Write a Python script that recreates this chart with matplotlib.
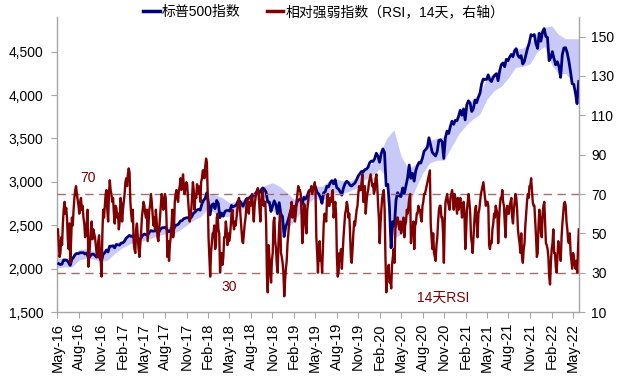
import matplotlib
matplotlib.use('Agg')
import matplotlib.pyplot as plt
import matplotlib.dates as mdates
from matplotlib.lines import Line2D
from matplotlib.ticker import FuncFormatter, FixedLocator
import pandas as pd

plt.rcParams['font.family'] = ['Liberation Sans', 'Noto Sans CJK SC']

# ---- data -------------------------------------------------------------
week_start = '2016-05-06'   # weekly (Friday) S&P 500 observations

spx = [
    # 2016
    2057, 2047, 2052, 2099, 2099, 2096, 2071, 2037, 2103, 2130, 2162, 2175, 2173,
    2183, 2184, 2184, 2169, 2180, 2128, 2139, 2165, 2168, 2153, 2133, 2141, 2126,
    2085, 2164, 2182, 2213, 2192, 2259, 2258, 2263, 2239,
    # 2017
    2277, 2275, 2271, 2295, 2297, 2316, 2351, 2367, 2383, 2372, 2378, 2344, 2363,
    2355, 2329, 2349, 2384, 2399, 2390, 2382, 2416, 2439, 2432, 2433, 2438, 2423,
    2425, 2459, 2472, 2472, 2477, 2441, 2425, 2443, 2477, 2461, 2500, 2502, 2519,
    2549, 2553, 2575, 2581, 2588, 2582, 2579, 2602, 2642, 2652, 2676, 2683, 2674,
    # 2018
    2744, 2786, 2810, 2873, 2762, 2620, 2732, 2747, 2691, 2786, 2752, 2588, 2641,
    2604, 2656, 2670, 2670, 2663, 2728, 2713, 2721, 2735, 2779, 2780, 2755, 2718,
    2760, 2801, 2802, 2819, 2840, 2833, 2850, 2875, 2902, 2872, 2905, 2930, 2914,
    2885, 2767, 2768, 2659, 2723, 2781, 2736, 2633, 2760, 2633, 2600, 2370, 2486,
    # 2019
    2532, 2596, 2671, 2665, 2707, 2708, 2776, 2793, 2804, 2743, 2822, 2801, 2834,
    2893, 2907, 2905, 2940, 2946, 2881, 2860, 2826, 2752, 2873, 2887, 2950, 2942,
    2990, 3014, 2977, 3026, 2932, 2919, 2889, 2847, 2926, 2979, 3007, 2992, 2962,
    2952, 2970, 2986, 3023, 3067, 3093, 3120, 3110, 3141, 3146, 3169, 3221, 3240,
    # 2020
    3235, 3265, 3330, 3295, 3226, 3328, 3380, 3338, 2954, 2972, 2711, 2240, 2541,
    2489, 2790, 2875, 2837, 2831, 2930, 2864, 2955, 3044, 3194, 3041, 3098, 3009,
    3130, 3185, 3225, 3216, 3271, 3351, 3373, 3397, 3508, 3427, 3341, 3319, 3298,
    3348, 3477, 3484, 3465, 3270, 3510, 3585, 3558, 3638, 3699, 3663, 3709, 3703,
    # 2021
    3756, 3825, 3768, 3841, 3714, 3887, 3934, 3907, 3811, 3842, 3943, 3913, 3975,
    4020, 4129, 4185, 4180, 4181, 4233, 4174, 4156, 4204, 4230, 4247, 4166, 4281,
    4352, 4370, 4327, 4412, 4395, 4437, 4468, 4442, 4509, 4535, 4459, 4433, 4455,
    4357, 4391, 4471, 4545, 4605, 4697, 4683, 4698, 4595, 4538, 4712, 4621, 4726,
    4766,
    # 2022
    4677, 4663, 4398, 4432, 4501, 4419, 4349, 4385, 4329, 4204, 4463, 4543,
    4546, 4488, 4393, 4272, 4132, 4123, 4024, 3901, 4158,
]

rsi_start = '2016-05-03'    # RSI sampled twice a week (Tue / Fri)
rsi = [
    # 2016
    52, 45, 38, 40, 48, 44, 55, 62,
    66, 60, 63, 58, 47, 42, 55, 35,
    46, 58, 54, 62, 68, 72, 74, 70, 67, 64,
    60, 66, 68, 62, 64, 58, 55, 48,
    50, 55, 62, 33, 38, 45, 52, 56, 47, 52,
    50, 48, 44, 40, 38, 46, 49, 40,
    36, 28, 50, 62, 58, 64, 70, 72,
    62, 56, 70, 77, 72, 70, 66, 68, 60, 55,
    # 2017
    64, 63, 58, 60, 52, 56, 68, 65,
    56, 62, 66, 70, 76, 78, 74, 80,
    83, 81, 66, 60, 56, 62, 46, 42, 40, 52,
    55, 48, 42, 38, 44, 50, 58, 62,
    66, 64, 60, 58, 62, 46, 54, 62,
    64, 70, 66, 60, 54, 58, 52, 62, 56, 48,
    46, 52, 58, 64, 70, 68, 62, 64,
    70, 68, 56, 38, 46, 36, 44, 48,
    54, 62, 48, 52, 66, 70, 72, 68, 66, 72,
    74, 78, 72, 76, 80, 74, 70, 74,
    76, 75, 68, 62, 56, 58, 62, 68,
    76, 72, 62, 70, 68, 75, 70, 74, 72, 66,
    # 2018
    76, 78, 82, 82, 78, 84, 88, 86,
    70, 48, 38, 28, 40, 45, 50, 50,
    54, 42, 44, 58, 60, 52, 50, 30, 38, 40,
    34, 38, 48, 48, 56, 52, 44, 50,
    46, 48, 54, 60, 62, 55, 52, 56,
    54, 58, 62, 66, 68, 64, 58, 52, 46, 45,
    50, 55, 58, 64, 68, 62, 60, 66,
    64, 68, 70, 62, 56, 64, 68, 70, 72, 73,
    70, 62, 56, 66, 70, 72, 64, 66,
    66, 55, 28, 20, 44, 38, 30, 25,
    36, 40, 56, 58, 46, 42, 34, 30, 45, 55,
    60, 40, 38, 35, 30, 18, 26, 32,
    # 2019
    36, 45, 50, 55, 60, 62, 66, 58,
    60, 64, 56, 60, 66, 70, 74, 72,
    72, 70, 60, 45, 52, 65, 64, 55, 50, 62,
    66, 70, 72, 72, 74, 70, 72, 74,
    76, 72, 48, 40, 30, 42, 46, 36, 38, 30,
    42, 55, 60, 58, 56, 68, 70, 64,
    64, 68, 66, 70, 72, 58, 62, 66,
    60, 38, 28, 30, 40, 36, 42, 32, 40, 48,
    54, 60, 62, 66, 64, 58, 60, 50,
    38, 35, 42, 50, 56, 54, 58, 62,
    64, 70, 74, 72, 72, 76, 80, 66, 70, 74,
    60, 66, 70, 72, 76, 78, 80, 77,
    # 2020
    74, 75, 70, 72, 78, 80, 74, 65, 58, 45,
    55, 62, 68, 70, 72, 62, 38, 20,
    28, 30, 34, 25, 26, 22, 34, 38,
    42, 35, 52, 55, 58, 58, 54, 52,
    56, 50, 52, 56, 58, 48, 54, 56, 62, 60,
    64, 68, 70, 45, 52, 52, 56, 42,
    54, 55, 60, 60, 64, 62, 62, 58, 56, 64,
    66, 70, 70, 72, 74, 76, 78, 80,
    82, 55, 48, 42, 50, 40, 38, 36,
    44, 48, 56, 62, 64, 64, 58, 58, 50, 35,
    56, 66, 68, 70, 66, 64, 62, 68,
    70, 72, 68, 62, 70, 68, 64, 60,
    # 2021
    68, 62, 66, 68, 64, 58, 62, 66, 60, 42,
    50, 62, 66, 70, 66, 60, 48, 45,
    40, 48, 56, 62, 64, 55, 48, 60,
    62, 66, 70, 72, 74, 76, 72, 68, 64, 66,
    66, 64, 44, 42, 46, 45, 52, 55,
    60, 58, 64, 62, 60, 45, 56, 64,
    68, 68, 72, 66, 64, 55, 48, 62, 64, 60,
    60, 64, 66, 68, 58, 55, 62, 66,
    70, 68, 62, 52, 48, 45, 40, 50,
    38, 35, 42, 45, 54, 60, 66, 70, 68, 74,
    74, 78, 72, 66, 64, 64, 56, 48,
    38, 40, 54, 62, 58, 50, 48, 60, 64, 66,
    # 2022
    56, 45, 44, 42, 38, 28, 24, 35,
    42, 45, 52, 40, 40, 33, 30, 38,
    46, 40, 42, 36, 48, 55, 60, 65,
    66, 64, 56, 52, 46, 45, 50, 40, 36, 32,
    40, 38, 34, 32, 36, 30, 42, 52,
]

band_start = '2016-05-01'   # monthly band observations
band_lower = [
    2010, 2020, 2020, 2100, 2120, 2110, 2080, 2100,
    2180, 2240, 2280, 2310, 2320, 2350, 2380, 2400, 2400, 2440, 2500, 2560,
    2600, 2700, 2640, 2600, 2600, 2640, 2690, 2760, 2800, 2830, 2680, 2560,
    2450, 2550, 2650, 2750, 2820, 2780, 2850, 2880, 2870, 2900, 2940, 3030,
    3080, 3150, 3050, 2350, 2400, 2700, 2920, 3100, 3220, 3250, 3250, 3400,
    3550, 3650, 3720, 3780, 3950, 4050, 4100, 4200, 4320, 4330, 4360, 4500,
    4560, 4350, 4250, 4250, 4150, 3950,
]
band_upper = [
    2120, 2120, 2140, 2220, 2230, 2200, 2200, 2250,
    2300, 2320, 2400, 2400, 2410, 2440, 2460, 2480, 2490, 2550, 2600, 2650,
    2720, 2870, 2850, 2820, 2760, 2770, 2800, 2860, 2920, 2960, 2990, 2950,
    2880, 2800, 2830, 2880, 2950, 2950, 3010, 3030, 3010, 3010, 3060, 3150,
    3220, 3320, 3500, 3600, 3300, 3150, 3200, 3300, 3480, 3500, 3520, 3650,
    3760, 3850, 3950, 4020, 4200, 4250, 4300, 4400, 4530, 4540, 4600, 4720,
    4780, 4800, 4700, 4650, 4650, 4650,
]

rsi_levels = [70, 30]
left_ticks = [1500, 2000, 2500, 3000, 3500, 4000, 4500]
right_ticks = [10, 30, 50, 70, 90, 110, 130, 150]
legend_labels = ['标普500指数', '相对强弱指数（RSI，14天，右轴）']

# ---- figure -----------------------------------------------------------
weeks = pd.date_range(week_start, periods=len(spx), freq='W-FRI')
rsi_dates = pd.date_range(rsi_start, periods=len(rsi), freq='84h')
months = pd.date_range(band_start, periods=len(band_lower), freq='MS')

BLUE = '#00007f'
RED = '#7f0000'
BAND = '#c9c9f7'
GRID = '#a6a6a6'
DASH = '#a07070'

fig = plt.figure(figsize=(6.2, 3.76), dpi=100)
ax = fig.add_axes([0.0927, 0.1702, 0.8411, 0.7846])
ax2 = ax.twinx()

ax.fill_between(months, band_lower, band_upper, color=BAND, lw=0, zorder=1)
ax.plot(weeks, spx, color=BLUE, lw=2.0, zorder=3)

ax2.plot(rsi_dates, rsi, color=RED, lw=1.7, zorder=3)
for lv in rsi_levels:
    ax2.axhline(lv, color=DASH, lw=1.0, ls=(0, (6, 4)), zorder=2)

ax.set_ylim(1500, 4900)
ax2.set_ylim(10, 160)
ax.set_xlim(pd.Timestamp('2016-05-01'), pd.Timestamp('2022-05-28'))

ax.yaxis.set_major_locator(FixedLocator(left_ticks))
ax.yaxis.set_major_formatter(FuncFormatter(lambda v, p: f'{int(v):,}'))
ax2.yaxis.set_major_locator(FixedLocator(right_ticks))

ax.xaxis.set_major_locator(mdates.MonthLocator(bymonth=[2, 5, 8, 11]))
ax.xaxis.set_major_formatter(mdates.DateFormatter('%b-%y'))
for lab in ax.get_xticklabels():
    lab.set_rotation(90)

for a in (ax, ax2):
    a.spines['top'].set_visible(False)
    for s in ('left', 'right', 'bottom'):
        a.spines[s].set_color(GRID)
        a.spines[s].set_linewidth(1.0)
ax.spines['right'].set_visible(False)
ax2.spines['left'].set_visible(False)
ax2.spines['bottom'].set_visible(False)

ax.tick_params(axis='y', length=4, color=GRID, labelsize=10, pad=6, labelcolor='#000000')
ax.tick_params(axis='x', length=4, color=GRID, labelsize=10.5, pad=4)
ax2.tick_params(axis='y', length=4, color=GRID, labelsize=10, pad=5)

ax2.text(pd.Timestamp('2016-09-07'), 78, '70', color=RED, fontsize=10, ha='center', va='center')
ax2.text(pd.Timestamp('2018-05-01'), 22.5, '30', color=RED, fontsize=10, ha='center', va='center')
ax2.text(pd.Timestamp('2020-10-27'), 17.5, '14天RSI', color=RED, fontsize=10, ha='center', va='center')

handles = [Line2D([], [], color=BLUE, lw=2.5), Line2D([], [], color=RED, lw=2.5)]
fig.legend(handles, legend_labels, loc='center', bbox_to_anchor=(0.522, 0.968),
           ncol=2, frameon=False, fontsize=10, handlelength=1.2, handletextpad=0.15,
           columnspacing=1.9)

fig.savefig('out.png', dpi=100)
